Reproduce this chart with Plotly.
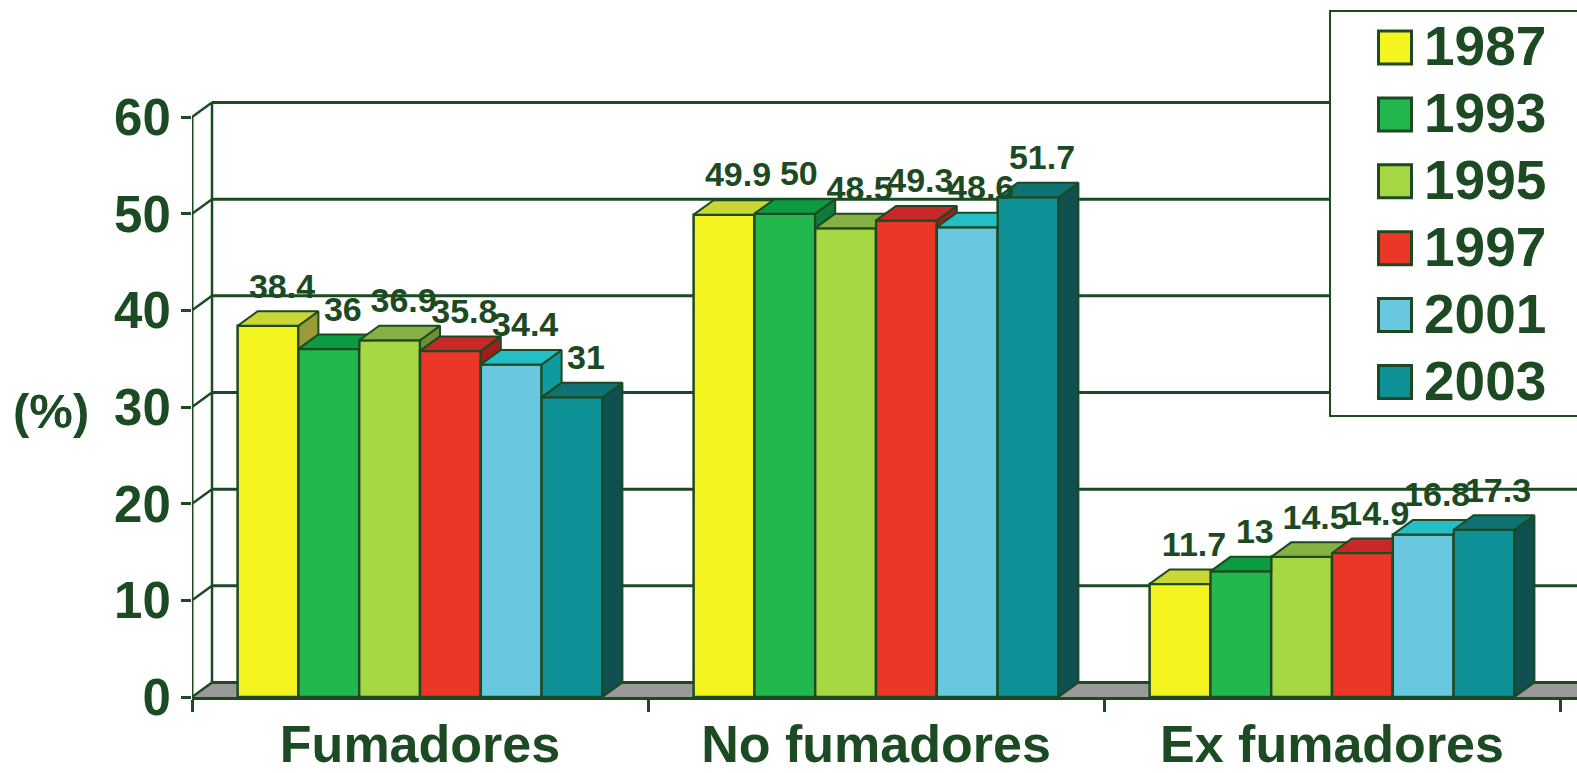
import plotly.graph_objects as go

# ---------------- data ----------------
categories = ["Fumadores", "No fumadores", "Ex fumadores"]
years = ["1987", "1993", "1995", "1997", "2001", "2003"]
v1987 = [38.4, 49.9, 11.7]
v1993 = [36, 50, 13]
v1995 = [36.9, 48.5, 14.5]
v1997 = [35.8, 49.3, 14.9]
v2001 = [34.4, 48.6, 16.8]
v2003 = [31, 51.7, 17.3]
series = [v1987, v1993, v1995, v1997, v2001, v2003]
y_ticks = [0, 10, 20, 30, 40, 50, 60]

# ---------------- style ----------------
INK = "#1C4A22"
FONT = "Liberation Sans, Arial, sans-serif"
front_colors = ["#F4F520", "#22B84D", "#A7D843", "#EB3727", "#69C8DF", "#0D9196"]
top_colors = ["#C9D636", "#0B9B40", "#86B142", "#C92828", "#25BDC6", "#107173"]
side_colors = ["#9A9A38", "#0F7A3A", "#6E8F35", "#A01E1E", "#0E9A9E", "#0F4F50"]

W, H = 1577, 773
ML, MR, MT, MB = 192, 0, 0, 76
PX_PER_CAT = 456.0
PX_PER_UNIT = 580.0 / 60.0
XMAX = -0.5 + (W - ML - MR) / PX_PER_CAT
YMAX = (H - MT - MB) / PX_PER_UNIT
DX = 20.0 / PX_PER_CAT      # 3D depth in x units
DY = 14.5 / PX_PER_UNIT     # 3D depth in y units
BARGAP = 0.2
n = len(series)
bw = (1 - BARGAP) / n

fig = go.Figure()

# front faces: real bars
xcat = list(range(len(categories)))
for s, vals in enumerate(series):
    fig.add_trace(go.Bar(
        x=xcat, y=vals, name=years[s],
        marker=dict(color=front_colors[s], line=dict(color=INK, width=2.5)),
        showlegend=False, hoverinfo="skip"))

# 3D top and side faces derived from the values
for s, vals in enumerate(series):
    sx, sy, tx, ty = [], [], [], []
    for c, h in enumerate(vals):
        L = c - (1 - BARGAP) / 2 + s * bw
        R = L + bw
        hn = series[s + 1][c] if s + 1 < n else 0.0
        # side face (visible part above the next bar)
        lo = min(hn, h)
        if lo < h:
            sx += [R, R + DX, R + DX, R, R, None]
            sy += [lo, lo + DY, h + DY, h, lo, None]
        # top face, clipped by the next bar's front face
        if hn <= h:
            tx += [L, R, R + DX, L + DX, L, None]
            ty += [h, h, h + DY, h + DY, h, None]
        elif hn >= h + DY:
            tx += [L, R, R, L + DX, L, None]
            ty += [h, h, h + DY, h + DY, h, None]
        else:
            tx += [L, R, R, R + (hn - h) / DY * DX, R + DX, L + DX, L, None]
            ty += [h, h, hn, hn, h + DY, h + DY, h, None]
    fig.add_trace(go.Scatter(x=sx, y=sy, mode="lines", fill="toself",
                             fillcolor=side_colors[s], line=dict(color=INK, width=2),
                             showlegend=False, hoverinfo="skip"))
    fig.add_trace(go.Scatter(x=tx, y=ty, mode="lines", fill="toself",
                             fillcolor=top_colors[s], line=dict(color=INK, width=2),
                             showlegend=False, hoverinfo="skip"))

# value labels
lx, ly, lt = [], [], []
for s, vals in enumerate(series):
    for c, h in enumerate(vals):
        L = c - (1 - BARGAP) / 2 + s * bw
        lx.append(L + bw / 2 + DX * 0.7)
        ly.append(h + DY + 2.3)
        lt.append(f"{h:g}")
fig.add_trace(go.Scatter(x=lx, y=ly, text=lt, mode="text", textposition="middle center",
                         textfont=dict(family=FONT, size=34, color=INK, weight="bold"),
                         showlegend=False, hoverinfo="skip"))

# legend built as a small subplot
leg_rows = list(range(len(years)))
fig.add_trace(go.Scatter(x=[64] * n, y=leg_rows, mode="markers",
                         marker=dict(symbol="square", size=33, color=front_colors,
                                     line=dict(color=INK, width=3)),
                         xaxis="x2", yaxis="y2", showlegend=False, hoverinfo="skip"))
fig.add_trace(go.Scatter(x=[93] * n, y=[r + 0.06 for r in leg_rows], mode="text", text=years,
                         textposition="middle right",
                         textfont=dict(family=FONT, size=55, color=INK, weight="bold"),
                         xaxis="x2", yaxis="y2", showlegend=False, hoverinfo="skip"))

# walls, floor and grid (decoration, behind the bars)
shapes = []
x0w = -0.5
x1w = -0.5 + DX
shapes.append(dict(type="path", xref="x", yref="y", layer="below",
                   path=f"M{x0w},0 L{XMAX},0 L{XMAX},{DY} L{x1w},{DY} Z",
                   fillcolor="#999999", line=dict(width=0)))
for v in y_ticks:
    shapes.append(dict(type="line", xref="x", yref="y", layer="below",
                       x0=x1w, x1=XMAX, y0=v + DY, y1=v + DY,
                       line=dict(color=INK, width=3)))
    shapes.append(dict(type="line", xref="x", yref="y", layer="below",
                       x0=x0w, x1=x1w, y0=v, y1=v + DY,
                       line=dict(color=INK, width=2.5)))
shapes.append(dict(type="line", xref="x", yref="y", layer="below",
                   x0=x1w, x1=x1w, y0=DY, y1=y_ticks[-1] + DY,
                   line=dict(color=INK, width=2.5)))
shapes.append(dict(type="line", xref="x", yref="y", layer="below",
                   x0=x0w, x1=x0w, y0=0, y1=y_ticks[-1],
                   line=dict(color=INK, width=3)))

fig.update_layout(
    template="none",
    width=W, height=H, autosize=False,
    margin=dict(l=ML, r=MR, t=MT, b=MB, pad=0),
    paper_bgcolor="white", plot_bgcolor="white",
    barmode="group", bargap=BARGAP, bargroupgap=0,
    showlegend=False,
    font=dict(family=FONT, color=INK),
    shapes=shapes,
    xaxis=dict(range=[-0.5, XMAX], tickvals=xcat, ticktext=categories, ticks="",
               showline=True, linecolor=INK, linewidth=3, showgrid=False, zeroline=False,
               automargin=False,
               tickfont=dict(family=FONT, size=52, color=INK, weight="bold"),
               ticklabelstandoff=0,
               minor=dict(tickvals=[-0.5, 0.5, 1.5, 2.5], ticks="outside", ticklen=12,
                          tickwidth=3, tickcolor=INK, showgrid=False),
               fixedrange=True),
    yaxis=dict(range=[0, YMAX], tickvals=y_ticks, ticks="outside", ticklen=10,
               tickwidth=3, tickcolor=INK, showgrid=False, zeroline=False, showline=False,
               automargin=False,
               tickfont=dict(family=FONT, size=51, color=INK, weight="bold"),
               fixedrange=True),
    xaxis2=dict(domain=[(1331 - ML) / (W - ML - MR), 1.0], range=[0, 246], anchor="y2",
                showline=True, mirror=True, linecolor=INK, linewidth=2,
                showgrid=False, zeroline=False, showticklabels=False, ticks="",
                automargin=False, fixedrange=True),
    yaxis2=dict(domain=[1 - 415 / (H - MT - MB), 1 - 12 / (H - MT - MB)],
                range=[(415 - 47.5) / 66.9, (12 - 47.5) / 66.9], anchor="x2",
                showline=True, mirror=False, linecolor=INK, linewidth=2,
                showgrid=False, zeroline=False, showticklabels=False, ticks="",
                automargin=False, fixedrange=True),
    annotations=[dict(text="(%)", xref="paper", yref="paper",
                      x=(51 - ML) / (W - ML - MR), y=1 - 411 / (H - MT - MB),
                      showarrow=False, xanchor="center", yanchor="middle",
                      font=dict(family=FONT, size=49, color=INK, weight="bold"))],
)

fig.write_html("out.html")
